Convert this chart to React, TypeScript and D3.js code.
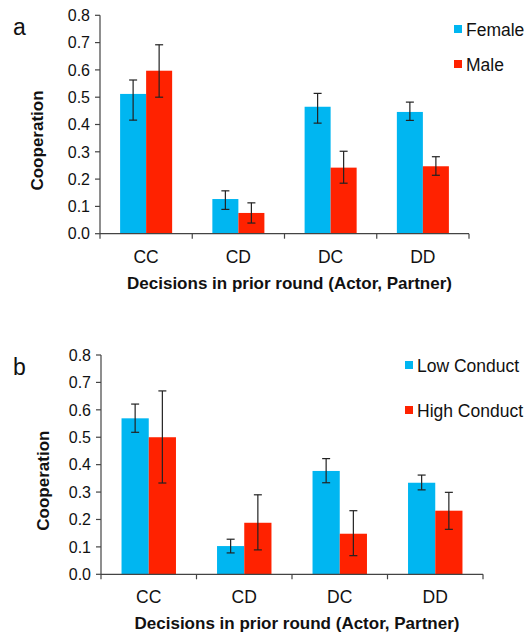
import React from "react";
import * as d3 from "d3";

const categories = ["CC", "CD", "DC", "DD"];
const yTicks = [0, 0.1, 0.2, 0.3, 0.4, 0.5, 0.6, 0.7, 0.8];

// Panel a
const seriesA = ["Female", "Male"];
const femaleVals = [0.512, 0.127, 0.465, 0.446];
const femaleLo = [0.416, 0.089, 0.405, 0.415];
const femaleHi = [0.563, 0.157, 0.514, 0.482];
const maleVals = [0.597, 0.076, 0.242, 0.247];
const maleLo = [0.5, 0.039, 0.185, 0.214];
const maleHi = [0.692, 0.113, 0.302, 0.282];

// Panel b
const seriesB = ["Low Conduct", "High Conduct"];
const lowVals = [0.569, 0.103, 0.377, 0.334];
const lowLo = [0.518, 0.078, 0.334, 0.308];
const lowHi = [0.621, 0.128, 0.422, 0.362];
const highVals = [0.5, 0.188, 0.148, 0.232];
const highLo = [0.333, 0.089, 0.068, 0.164];
const highHi = [0.669, 0.29, 0.232, 0.299];

const colors = ["#00B6F1", "#FF2200"];
const FONT = "Liberation Sans, Arial, sans-serif";
const AXIS = "#444";

type Panel = {
  label: string;
  series: string[];
  vals: number[][];
  lo: number[][];
  hi: number[][];
  x0: number;
  x1: number;
  yTop: number;
  yBot: number;
  pad: number;
  legendX: number;
  legendY: number[];
  coopX: number;
  labelY: number;
};

function ChartPanel({ p }: { p: Panel }) {
  const y = d3.scaleLinear().domain([0, 0.8]).range([p.yBot, p.yTop]);
  const x = d3
    .scaleBand<string>()
    .domain(categories)
    .range([p.x0, p.x1])
    .paddingInner(p.pad)
    .paddingOuter(p.pad / 2);
  const xi = d3.scaleBand<string>().domain(p.series).range([0, x.bandwidth()]);
  const step = x.step();
  const boundaries = d3.range(categories.length + 1).map((i) => p.x0 + i * step);
  return (
    <g>
      <text x={13} y={p.labelY} fontFamily={FONT} fontSize={23} fill="#111">
        {p.label}
      </text>
      {/* bars */}
      {p.series.map((s, si) =>
        categories.map((c, ci) => {
          const bx = (x(c) as number) + (xi(s) as number);
          const v = p.vals[si][ci];
          return (
            <rect
              key={s + c}
              x={bx}
              y={y(v)}
              width={xi.bandwidth()}
              height={y(0) - y(v)}
              fill={colors[si]}
            />
          );
        })
      )}
      {/* error bars */}
      {p.series.map((s, si) =>
        categories.map((c, ci) => {
          const cx = (x(c) as number) + (xi(s) as number) + xi.bandwidth() / 2;
          const yl = y(p.lo[si][ci]);
          const yh = y(p.hi[si][ci]);
          return (
            <g key={"e" + s + c} stroke="#222" strokeWidth={1.2}>
              <line x1={cx} x2={cx} y1={yl} y2={yh} />
              <line x1={cx - 4} x2={cx + 4} y1={yl} y2={yl} />
              <line x1={cx - 4} x2={cx + 4} y1={yh} y2={yh} />
            </g>
          );
        })
      )}
      {/* y axis */}
      <line x1={p.x0} x2={p.x0} y1={y(0.8)} y2={y(0)} stroke={AXIS} strokeWidth={1.2} />
      {yTicks.map((t) => (
        <g key={"yt" + t}>
          <line x1={p.x0 - 5} x2={p.x0} y1={y(t)} y2={y(t)} stroke={AXIS} strokeWidth={1.2} />
          <text
            x={p.x0 - 10}
            y={y(t)}
            dy="0.36em"
            textAnchor="end"
            fontFamily={FONT}
            fontSize={16}
            fill="#111"
          >
            {d3.format(".1f")(t)}
          </text>
        </g>
      ))}
      {/* x axis */}
      <line x1={p.x0} x2={p.x1} y1={y(0)} y2={y(0)} stroke={AXIS} strokeWidth={1.2} />
      {boundaries.map((bx, i) => (
        <line key={"xt" + i} x1={bx} x2={bx} y1={y(0)} y2={y(0) + 5} stroke={AXIS} strokeWidth={1.2} />
      ))}
      {categories.map((c) => (
        <text
          key={"xl" + c}
          x={(x(c) as number) + x.bandwidth() / 2}
          y={y(0) + 29}
          textAnchor="middle"
          fontFamily={FONT}
          fontSize={17.5}
          fill="#111"
        >
          {c}
        </text>
      ))}
      <text
        x={(p.x0 + p.x1) / 2 + 5}
        y={y(0) + 55}
        textAnchor="middle"
        fontFamily={FONT}
        fontSize={17}
        fontWeight="bold"
        fill="#111"
      >
        Decisions in prior round (Actor, Partner)
      </text>
      <text
        transform={`translate(${p.coopX},${(y(0) + y(0.8)) / 2 + 16}) rotate(-90)`}
        textAnchor="middle"
        fontFamily={FONT}
        fontSize={17}
        fontWeight="bold"
        fill="#111"
      >
        Cooperation
      </text>
      {/* legend */}
      {p.series.map((s, si) => (
        <g key={"lg" + s}>
          <rect x={p.legendX} y={p.legendY[si] - 11} width={8} height={8} fill={colors[si]} />
          <text x={p.legendX + 12} y={p.legendY[si]} fontFamily={FONT} fontSize={17.5} fill="#111">
            {s}
          </text>
        </g>
      ))}
    </g>
  );
}

const panelA: Panel = {
  label: "a",
  series: seriesA,
  vals: [femaleVals, maleVals],
  lo: [femaleLo, maleLo],
  hi: [femaleHi, maleHi],
  x0: 100,
  x1: 469,
  yTop: 15.3,
  yBot: 233.7,
  pad: 0.436,
  legendX: 454,
  legendY: [36, 71],
  coopX: 43,
  labelY: 35,
};

const panelB: Panel = {
  label: "b",
  series: seriesB,
  vals: [lowVals, highVals],
  lo: [lowLo, highLo],
  hi: [lowHi, highHi],
  x0: 101,
  x1: 483,
  yTop: 355,
  yBot: 574.3,
  pad: 0.43,
  legendX: 405,
  legendY: [372, 417],
  coopX: 49,
  labelY: 375,
};

export default function App() {
  return (
    <svg
      width={527}
      height={633}
      style={{ position: "absolute", left: 0, top: 0, background: "#fff" }}
    >
      <rect width={527} height={633} fill="#fff" />
      <ChartPanel p={panelA} />
      <ChartPanel p={panelB} />
    </svg>
  );
}
